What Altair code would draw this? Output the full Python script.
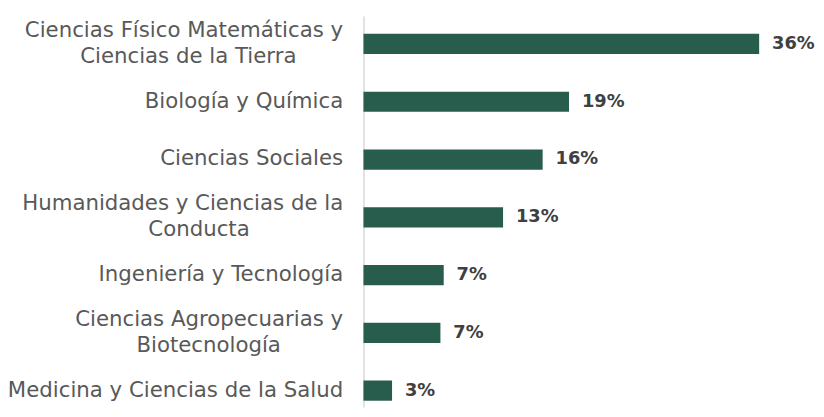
import altair as alt
import pandas as pd

categories = [
    "Ciencias Físico Matemáticas y\nCiencias de la Tierra",
    "Biología y Química",
    "Ciencias Sociales",
    "Humanidades y Ciencias de la\nConducta",
    "Ingeniería y Tecnología",
    "Ciencias Agropecuarias y\nBiotecnología",
    "Medicina y Ciencias de la Salud",
]
values = [36.0, 18.7, 16.3, 12.7, 7.3, 7.0, 2.6]

df = pd.DataFrame({"area": categories, "pct": values})

BAR = "#285C4D"
FONT = "DejaVu Sans"
PADCH = "\u2800"  # blank (non-whitespace) glyph used to centre second lines

l0 = "split(datum.label, '\\n')[0]"
l1 = "split(datum.label, '\\n')[1]"
label_expr = (
    "length(split(datum.label, '\\n')) > 1 ? "
    f"[{l0}, pad({l1}, length({l1}) + round((length({l0}) - length({l1})) * 0.25 + 1.4), '{PADCH}')]"
    " : datum.label"
)

multi = "indexof(datum.value, '\\n') >= 0"

y_enc = alt.Y(
    "area:N",
    sort=categories,
    title=None,
    scale=alt.Scale(paddingInner=0.65, paddingOuter=0.21, align=0.74),
    axis=alt.Axis(
        labelExpr=label_expr,
        labelFont=FONT,
        labelFontSize=21.5,
        labelColor="#595959",
        labelLineHeight=26,
        labelOffset=alt.condition(multi, alt.value(-13), alt.value(0)),
        labelPadding=21,
        labelLimit=500,
        ticks=False,
        domain=True,
        domainColor="#d9d9d9",
        domainWidth=1.5,
        grid=False,
    ),
)

x_scale = alt.Scale(domain=[0, 40], nice=False, zero=True)

bars = alt.Chart(df).mark_bar(color=BAR).encode(
    x=alt.X("pct:Q", title=None, scale=x_scale, axis=None),
    y=y_enc,
)

labels = alt.Chart(df).mark_text(
    align="left",
    baseline="middle",
    dx=13,
    font=FONT,
    fontSize=18,
    fontWeight="bold",
    color="#404040",
).encode(
    x=alt.X("pct:Q", scale=x_scale, axis=None),
    y=alt.Y("area:N", sort=categories),
    text=alt.Text("label:N"),
).transform_calculate(label="format(round(datum.pct), 'd') + '%'")

chart = (
    alt.layer(bars, labels)
    .properties(
        width=444,
        height=395,
        autosize=alt.AutoSizeParams(type="none"),
        padding={"left": 359, "top": 6, "right": 13, "bottom": 0},
    )
    .configure(background="white")
    .configure_view(strokeWidth=0, stroke=None)
)

chart.save("out.html", embed_options={"renderer": "svg", "actions": False})
